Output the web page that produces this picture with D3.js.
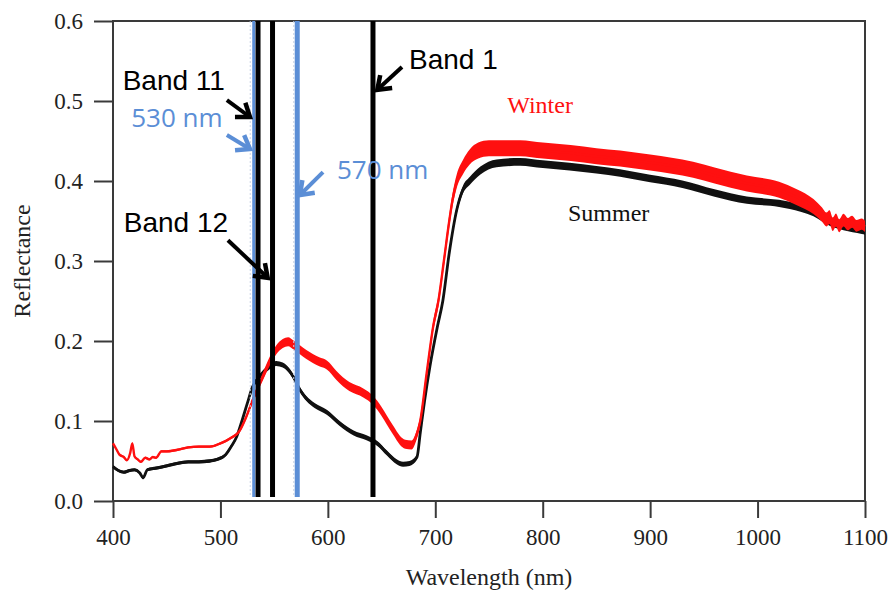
<!DOCTYPE html>
<html>
<head>
<meta charset="utf-8">
<script src="https://cdn.jsdelivr.net/npm/d3@7"></script>
<style>
  html, body { margin: 0; padding: 0; background: #fff; }
  svg { display: block; }
  .tick text { font-family: "Liberation Serif", "Times New Roman", serif; font-size: 23px; fill: #222; }
</style>
</head>
<body>
<svg id="chart" width="891" height="590"></svg>
<script>
// --- data ---
const summerWl = [400, 405, 410, 415, 420, 425, 428, 432, 440, 450, 460, 470, 480, 490, 497, 505, 510, 515, 520, 525,
  530, 535, 540, 545, 552, 558, 562, 568, 574, 580, 588, 599, 611, 624, 636, 646, 655, 664, 670, 676,
  683, 686, 690, 695, 702, 707, 713, 720, 726, 732, 742, 757, 779, 800, 825, 850, 872, 900, 930, 960,
  990, 1020, 1040, 1052, 1067, 1080, 1097, 1100];
const summerR = [0.043, 0.038, 0.036, 0.038, 0.039, 0.035, 0.029, 0.039, 0.041, 0.044, 0.047, 0.049, 0.049, 0.050, 0.052, 0.058, 0.068, 0.080, 0.100, 0.122,
  0.143, 0.153, 0.161, 0.167, 0.172, 0.170, 0.166, 0.155, 0.139, 0.128, 0.119, 0.111, 0.097, 0.085, 0.079, 0.072, 0.060, 0.049, 0.046, 0.047,
  0.055, 0.085, 0.125, 0.168, 0.218, 0.250, 0.310, 0.364, 0.390, 0.400, 0.413, 0.422, 0.424, 0.421, 0.418, 0.414, 0.410, 0.403, 0.396, 0.385,
  0.376, 0.372, 0.366, 0.360, 0.348, 0.342, 0.337, 0.336];

const winterWl = [400, 403, 406, 410, 413, 416, 418, 420, 423, 426, 430, 434, 437, 440, 445, 450, 460, 470, 480, 490,
  500, 510, 518, 524, 530, 535, 540, 546, 552, 558, 563, 568, 574, 580, 586, 592, 599, 608, 614, 620,
  633, 642, 650, 655, 661, 667, 672, 678, 682, 686, 692, 698, 703, 708, 713, 716, 720, 726, 732, 740,
  750, 779, 800, 826, 850, 872, 900, 920, 940, 960, 990, 1020, 1036, 1052, 1060, 1064, 1067, 1070, 1073, 1076,
  1080, 1084, 1088, 1092, 1097, 1100];
const winterR = [0.072, 0.065, 0.058, 0.055, 0.051, 0.060, 0.072, 0.056, 0.052, 0.049, 0.054, 0.052, 0.055, 0.054, 0.062, 0.062, 0.064, 0.067, 0.068, 0.068,
  0.072, 0.079, 0.088, 0.105, 0.126, 0.142, 0.157, 0.175, 0.189, 0.197, 0.199, 0.195, 0.189, 0.183, 0.178, 0.174, 0.170, 0.157, 0.149, 0.143,
  0.135, 0.126, 0.112, 0.101, 0.088, 0.076, 0.071, 0.070, 0.080, 0.100, 0.160, 0.218, 0.251, 0.300, 0.350, 0.376, 0.400, 0.418, 0.430, 0.438,
  0.441, 0.441, 0.438, 0.435, 0.431, 0.428, 0.423, 0.419, 0.414, 0.407, 0.397, 0.389, 0.380, 0.368, 0.358, 0.352, 0.355, 0.346, 0.351, 0.344,
  0.351, 0.346, 0.349, 0.344, 0.346, 0.343];

const xTicks = [400, 500, 600, 700, 800, 900, 1000, 1100];
const yTicks = [0.0, 0.1, 0.2, 0.3, 0.4, 0.5, 0.6];

// vertical marker lines (nm)
const bandNames = ["530 nm", "Band 11", "Band 12", "570 nm", "Band 1"];
const bandWl = [531, 535, 548.5, 571.5, 642];
const bandKind = ["blue", "black", "black", "blue", "black"];

// annotations: label, text anchor (nm, refl), arrow tail and tip (nm, refl)
const noteText = ["Band 11", "530 nm", "570 nm", "Band 12", "Band 1"];
const noteKind = ["black", "blue", "blue", "black", "black"];
const notePos = [[409, 0.526], [417, 0.479], [608.5, 0.414], [410, 0.349], [675.5, 0.5525]];
const noteTail = [[506, 0.501], [506, 0.4575], [595.5, 0.411], [507, 0.326], [669, 0.5425]];
const noteTip = [[527.5, 0.48], [527.5, 0.44], [574, 0.3825], [544, 0.279], [646, 0.514]];

const seriesLabels = [["Winter", 767, 0.495], ["Summer", 823.5, 0.361]];

// --- layout ---
const svg = d3.select('#chart');
const x = d3.scaleLinear().domain([400, 1100]).range([113, 865]);
const y = d3.scaleLinear().domain([0, 0.6]).range([501, 21]);
const axisColor = '#3a3a3a';
const blue = '#5b8ed6';
const red = '#ff1010';

// band thickness (vertical px) along the spectrum, visual only
const winterW = d3.scaleLinear().domain([400, 515, 545, 690, 710, 740, 1040, 1100]).range([2, 2.4, 9, 9, 12, 16, 16, 11]).clamp(true);
const summerW = d3.scaleLinear().domain([400, 515, 545, 690, 730, 1040, 1100]).range([3, 3.5, 5, 5, 8, 7, 5]).clamp(true);

const summer = summerWl.map((wl, i) => ({ wl, r: summerR[i] }));
const winter = winterWl.map((wl, i) => ({ wl, r: winterR[i] }));

// axes
const gx = svg.append('g').attr('transform', `translate(0,${y(0)})`)
  .call(d3.axisBottom(x).tickValues(xTicks).tickSize(17).tickPadding(11).tickFormat(d3.format('d')));
const gy = svg.append('g').attr('transform', `translate(${x(400)},0)`)
  .call(d3.axisLeft(y).tickValues(yTicks).tickSize(19).tickPadding(11).tickFormat(d3.format('.1f')));
[gx, gy].forEach(g => {
  g.select('.domain').remove();
  g.selectAll('.tick line').attr('stroke', axisColor).attr('stroke-width', 2);
});

// frame
svg.append('rect')
  .attr('x', x(400)).attr('y', y(0.6))
  .attr('width', x(1100) - x(400)).attr('height', y(0) - y(0.6))
  .attr('fill', 'none').attr('stroke', axisColor).attr('stroke-width', 2);

// spectra
function drawSpectrum(data, color, wScale, lw) {
  const area = d3.area()
    .x(d => x(d.wl))
    .y0(d => y(d.r) - wScale(d.wl) / 2)
    .y1(d => y(d.r) + wScale(d.wl) / 2)
    .curve(d3.curveMonotoneX);
  const line = d3.line().x(d => x(d.wl)).y(d => y(d.r)).curve(d3.curveMonotoneX);
  svg.append('path').datum(data).attr('d', area).attr('fill', color);
  svg.append('path').datum(data).attr('d', line)
    .attr('fill', 'none').attr('stroke', color).attr('stroke-width', lw).attr('stroke-linejoin', 'round');
}
drawSpectrum(summer, '#111', summerW, 2.8);
drawSpectrum(winter, red, winterW, 2.4);

// marker lines
const bands = bandWl.map((wl, i) => ({ wl, kind: bandKind[i], name: bandNames[i] }));
svg.append('g').selectAll('line').data(bands.filter(d => d.kind === 'blue')).join('line')
  .attr('x1', d => x(d.wl) - 3.5).attr('x2', d => x(d.wl) - 3.5)
  .attr('y1', y(0.6)).attr('y2', y(0.005))
  .attr('stroke', '#c9d3e4').attr('stroke-width', 1).attr('stroke-dasharray', '2,2');
svg.append('g').selectAll('line').data(bands).join('line')
  .attr('x1', d => x(d.wl)).attr('x2', d => x(d.wl))
  .attr('y1', y(0.6)).attr('y2', y(0.005))
  .attr('stroke', d => d.kind === 'blue' ? blue : '#000')
  .attr('stroke-width', d => d.name === '530 nm' ? 3 : 5);

// annotations
const notes = noteText.map((t, i) => ({ t, kind: noteKind[i], pos: notePos[i], tail: noteTail[i], tip: noteTip[i] }));
const ng = svg.append('g');
notes.forEach(n => {
  const color = n.kind === 'blue' ? blue : '#000';
  const tx = x(n.tip[0]), ty = y(n.tip[1]);
  const sx = x(n.tail[0]), sy = y(n.tail[1]);
  const ang = Math.atan2(ty - sy, tx - sx);
  const hl = 15, spread = Math.PI / 5;
  const h1 = [tx - hl * Math.cos(ang - spread), ty - hl * Math.sin(ang - spread)];
  const h2 = [tx - hl * Math.cos(ang + spread), ty - hl * Math.sin(ang + spread)];
  ng.append('path').attr('d', `M${sx},${sy}L${tx},${ty}`)
    .attr('stroke', color).attr('stroke-width', 4).attr('fill', 'none');
  ng.append('path').attr('d', `M${h1[0]},${h1[1]}L${tx},${ty}L${h2[0]},${h2[1]}`)
    .attr('stroke', color).attr('stroke-width', 4.5).attr('fill', 'none')
    .attr('stroke-linejoin', 'miter');
  ng.append('text')
    .attr('x', x(n.pos[0])).attr('y', y(n.pos[1])).attr('dy', '0.36em')
    .attr('font-family', n.kind === 'blue' ? '"Open Sans", sans-serif' : '"Liberation Sans", Arial, sans-serif')
    .attr('font-size', n.kind === 'blue' ? 26 : 28)
    .attr('fill', color)
    .text(n.t);
});

// series labels
svg.append('g').selectAll('text').data(seriesLabels).join('text')
  .attr('x', d => x(d[1])).attr('y', d => y(d[2])).attr('dy', '0.35em')
  .attr('font-family', '"Liberation Serif", "Times New Roman", serif')
  .attr('font-size', 24)
  .attr('fill', d => d[0] === 'Winter' ? red : '#111')
  .text(d => d[0]);

// axis titles
svg.append('text')
  .attr('x', (x(400) + x(1100)) / 2).attr('y', 585)
  .attr('text-anchor', 'middle')
  .attr('font-family', '"Liberation Serif", "Times New Roman", serif')
  .attr('font-size', 24).attr('fill', '#222')
  .text('Wavelength (nm)');
svg.append('text')
  .attr('transform', `translate(30,${(y(0) + y(0.6)) / 2}) rotate(-90)`)
  .attr('text-anchor', 'middle')
  .attr('font-family', '"Liberation Serif", "Times New Roman", serif')
  .attr('font-size', 24).attr('fill', '#222')
  .text('Reflectance');
</script>
</body>
</html>
